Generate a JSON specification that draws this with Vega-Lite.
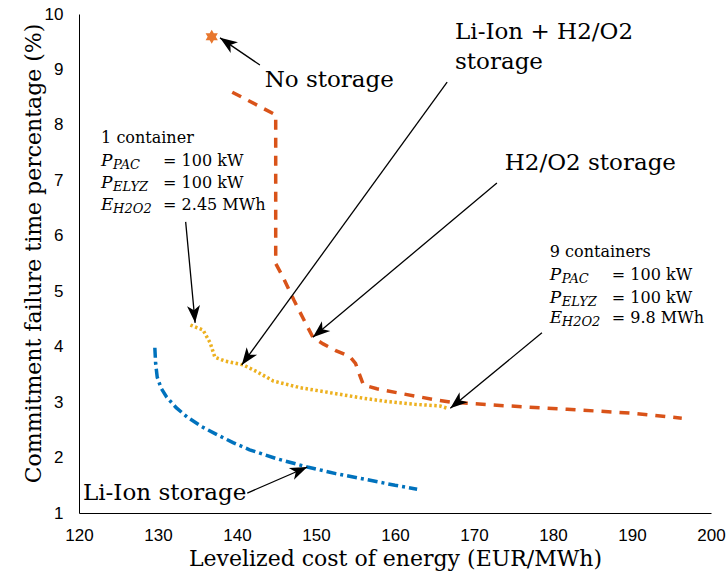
{
  "$schema": "https://vega.github.io/schema/vega-lite/v6.json",
  "width": 632,
  "height": 499,
  "autosize": {"type": "none"},
  "padding": {"left": 79, "top": 14, "right": 16, "bottom": 65},
  "background": "white",
  "config": {"view": {"stroke": null}},
  "datasets": {
    "curves": [
      {"s": "h2", "x": 139.4, "y": 8.59}, {"s": "h2", "x": 144.9, "y": 8.18}, {"s": "h2", "x": 144.9, "y": 5.5},
      {"s": "h2", "x": 145.8, "y": 5.26}, {"s": "h2", "x": 147.2, "y": 4.84}, {"s": "h2", "x": 148.3, "y": 4.53},
      {"s": "h2", "x": 149.6, "y": 4.17}, {"s": "h2", "x": 150.9, "y": 4.05}, {"s": "h2", "x": 152.5, "y": 3.93},
      {"s": "h2", "x": 154.3, "y": 3.82}, {"s": "h2", "x": 155.0, "y": 3.7}, {"s": "h2", "x": 155.5, "y": 3.5},
      {"s": "h2", "x": 156.0, "y": 3.31}, {"s": "h2", "x": 157.7, "y": 3.24}, {"s": "h2", "x": 160.6, "y": 3.16},
      {"s": "h2", "x": 164.8, "y": 3.05}, {"s": "h2", "x": 167.0, "y": 3.0}, {"s": "h2", "x": 173.3, "y": 2.94},
      {"s": "h2", "x": 181.8, "y": 2.87}, {"s": "h2", "x": 190.1, "y": 2.8}, {"s": "h2", "x": 196.3, "y": 2.71},
      {"s": "mix", "x": 134.1, "y": 4.39}, {"s": "mix", "x": 135.7, "y": 4.3}, {"s": "mix", "x": 136.6, "y": 4.07},
      {"s": "mix", "x": 137.2, "y": 3.81}, {"s": "mix", "x": 138.5, "y": 3.74}, {"s": "mix", "x": 140.8, "y": 3.67},
      {"s": "mix", "x": 142.5, "y": 3.55}, {"s": "mix", "x": 144.6, "y": 3.38}, {"s": "mix", "x": 148.0, "y": 3.26},
      {"s": "mix", "x": 152.2, "y": 3.16}, {"s": "mix", "x": 156.0, "y": 3.07}, {"s": "mix", "x": 159.0, "y": 3.01},
      {"s": "mix", "x": 162.5, "y": 2.96}, {"s": "mix", "x": 165.7, "y": 2.93}, {"s": "mix", "x": 166.6, "y": 2.89},
      {"s": "li", "x": 129.6, "y": 3.98}, {"s": "li", "x": 129.7, "y": 3.7}, {"s": "li", "x": 129.9, "y": 3.45},
      {"s": "li", "x": 130.4, "y": 3.25}, {"s": "li", "x": 131.1, "y": 3.09}, {"s": "li", "x": 132.3, "y": 2.9},
      {"s": "li", "x": 133.7, "y": 2.73}, {"s": "li", "x": 135.5, "y": 2.56}, {"s": "li", "x": 137.5, "y": 2.41},
      {"s": "li", "x": 139.5, "y": 2.27}, {"s": "li", "x": 141.6, "y": 2.14}, {"s": "li", "x": 145.0, "y": 1.98},
      {"s": "li", "x": 148.9, "y": 1.83}, {"s": "li", "x": 152.5, "y": 1.71}, {"s": "li", "x": 156.5, "y": 1.6},
      {"s": "li", "x": 160.0, "y": 1.5}, {"s": "li", "x": 162.8, "y": 1.43}
    ],
    "star": [{"x": 136.8, "y": 9.59}],
    "xticks": [{"x": 120}, {"x": 130}, {"x": 140}, {"x": 150}, {"x": 160}, {"x": 170}, {"x": 180}, {"x": 190}, {"x": 200}],
    "yticks": [{"y": 1}, {"y": 2}, {"y": 3}, {"y": 4}, {"y": 5}, {"y": 6}, {"y": 7}, {"y": 8}, {"y": 9}, {"y": 10}],
    "arrows": [
      {"x": 142.9, "y": 9.08, "x2": 137.85, "y2": 9.57},
      {"x": 166.6, "y": 8.77, "x2": 140.6, "y2": 3.67},
      {"x": 172.9, "y": 6.95, "x2": 149.6, "y2": 4.17},
      {"x": 133.5, "y": 6.25, "x2": 134.7, "y2": 4.43},
      {"x": 178.6, "y": 4.25, "x2": 167.0, "y2": 2.89},
      {"x": 141.3, "y": 1.36, "x2": 148.9, "y2": 1.83}
    ],
    "labels": [
      {"x": 143.5, "y": 8.81, "t": "No storage"},
      {"x": 167.6, "y": 9.68, "t": "Li-Ion + H2/O2"},
      {"x": 167.6, "y": 9.13, "t": "storage"},
      {"x": 173.9, "y": 7.31, "t": "H2/O2 storage"},
      {"x": 120.5, "y": 1.36, "t": "Li-Ion storage"}
    ],
    "heads": [
      {"x": 122.8, "y": 7.76, "t": "1 container"},
      {"x": 179.6, "y": 5.71, "t": "9 containers"}
    ],
    "formulas": [
      {"x": 122.8, "y": 7.35, "sym": "P", "sub": "PAC", "rest": "= 100 kW"},
      {"x": 122.8, "y": 6.95, "sym": "P", "sub": "ELYZ", "rest": "= 100 kW"},
      {"x": 122.8, "y": 6.55, "sym": "E", "sub": "H2O2", "rest": "= 2.45 MWh"},
      {"x": 179.6, "y": 5.29, "sym": "P", "sub": "PAC", "rest": "= 100 kW"},
      {"x": 179.6, "y": 4.88, "sym": "P", "sub": "ELYZ", "rest": "= 100 kW"},
      {"x": 179.6, "y": 4.52, "sym": "E", "sub": "H2O2", "rest": "= 9.8 MWh"}
    ]
  },
  "encoding": {
    "x": {
      "field": "x", "type": "quantitative",
      "scale": {"domain": [120, 200], "nice": false, "zero": false},
      "axis": {
        "title": "Levelized cost of energy (EUR/MWh)",
        "values": [120, 130, 140, 150, 160, 170, 180, 190, 200],
        "grid": false, "domainColor": "black", "ticks": false,
        "labelPadding": 14, "labelFlush": false, "labelOverlap": false,
        "labelFont": "Liberation Sans", "labelFontSize": 17, "labelColor": "black",
        "titleFont": "DejaVu Serif", "titleFontSize": 22, "titleFontWeight": "normal", "titleColor": "black",
        "titleY": 45, "titleBaseline": "middle"
      }
    },
    "y": {
      "field": "y", "type": "quantitative",
      "scale": {"domain": [1, 10], "nice": false, "zero": false},
      "axis": {
        "title": "Commitment failure time percentage (%)",
        "values": [1, 2, 3, 4, 5, 6, 7, 8, 9, 10],
        "grid": false, "domainColor": "black", "ticks": false,
        "labelPadding": 16, "labelFlush": false, "labelOverlap": false,
        "labelFont": "Liberation Sans", "labelFontSize": 17, "labelColor": "black",
        "titleFont": "DejaVu Serif", "titleFontSize": 22, "titleFontWeight": "normal", "titleColor": "black",
        "titleX": -46, "titleY": 239, "titleBaseline": "middle", "titleAlign": "center", "titleAngle": -90
      }
    }
  },
  "layer": [
    {
      "data": {"name": "xticks"},
      "mark": {"type": "tick", "orient": "vertical", "color": "black", "size": 6, "thickness": 1, "yOffset": -3, "opacity": 1},
      "encoding": {"y": {"datum": 1}}
    },
    {
      "data": {"name": "yticks"},
      "mark": {"type": "tick", "orient": "horizontal", "color": "black", "size": 6, "thickness": 1, "xOffset": 3, "opacity": 1},
      "encoding": {"x": {"datum": 120}}
    },
    {
      "data": {"name": "curves"},
      "transform": [{"filter": "datum.s === 'h2'"}],
      "mark": {"type": "line", "color": "#D95319", "strokeWidth": 3.5, "strokeDash": [10, 8], "strokeCap": "butt"},
      "encoding": {"order": {"value": null}}
    },
    {
      "data": {"name": "curves"},
      "transform": [{"filter": "datum.s === 'mix'"}],
      "mark": {"type": "line", "color": "#EDB120", "strokeWidth": 3.5, "strokeDash": [2.5, 2.5], "strokeCap": "butt"},
      "encoding": {"order": {"value": null}}
    },
    {
      "data": {"name": "curves"},
      "transform": [{"filter": "datum.s === 'li'"}],
      "mark": {"type": "line", "color": "#0072BD", "strokeWidth": 3.5, "strokeDash": [10, 4, 3, 4], "strokeCap": "butt"},
      "encoding": {"order": {"value": null}}
    },
    {
      "data": {"name": "star"},
      "mark": {
        "type": "point", "filled": true, "size": 200, "color": "#E8772E", "opacity": 1,
        "shape": "M0,-1L0.289,-0.5L0.866,-0.5L0.577,0L0.866,0.5L0.289,0.5L0,1L-0.289,0.5L-0.866,0.5L-0.577,0L-0.866,-0.5L-0.289,-0.5Z"
      }
    },
    {
      "data": {"name": "arrows"},
      "mark": {"type": "rule", "color": "black", "strokeWidth": 1.3},
      "encoding": {"x2": {"field": "x2"}, "y2": {"field": "y2"}}
    },
    {
      "data": {"name": "arrows"},
      "transform": [{"calculate": "atan2((datum.x2 - datum.x) * 7.9, (datum.y2 - datum.y) * 55.44) * 180 / PI", "as": "ang"}],
      "mark": {
        "type": "point", "filled": true, "size": 300, "color": "black", "opacity": 1, "strokeWidth": 0,
        "shape": "M0,0L0.75,2L0,1.45L-0.75,2Z"
      },
      "encoding": {
        "x": {"field": "x2", "type": "quantitative"},
        "y": {"field": "y2", "type": "quantitative"},
        "angle": {"field": "ang", "type": "quantitative", "scale": null}
      }
    },
    {
      "data": {"name": "labels"},
      "mark": {"type": "text", "font": "DejaVu Serif", "fontSize": 23, "align": "left", "baseline": "middle", "color": "black"},
      "encoding": {"text": {"field": "t"}}
    },
    {
      "data": {"name": "heads"},
      "mark": {"type": "text", "font": "DejaVu Serif", "fontSize": 16, "align": "left", "baseline": "middle", "color": "black"},
      "encoding": {"text": {"field": "t"}}
    },
    {
      "data": {"name": "formulas"},
      "mark": {"type": "text", "font": "DejaVu Serif", "fontSize": 17, "fontStyle": "italic", "align": "left", "baseline": "middle", "color": "black"},
      "encoding": {"text": {"field": "sym"}}
    },
    {
      "data": {"name": "formulas"},
      "mark": {"type": "text", "font": "DejaVu Serif", "fontSize": 13, "fontStyle": "italic", "align": "left", "baseline": "middle", "color": "black", "dx": 12, "dy": 4},
      "encoding": {"text": {"field": "sub"}}
    },
    {
      "data": {"name": "formulas"},
      "mark": {"type": "text", "font": "DejaVu Serif", "fontSize": 16, "align": "left", "baseline": "middle", "color": "black", "dx": 62},
      "encoding": {"text": {"field": "rest"}}
    }
  ]
}
